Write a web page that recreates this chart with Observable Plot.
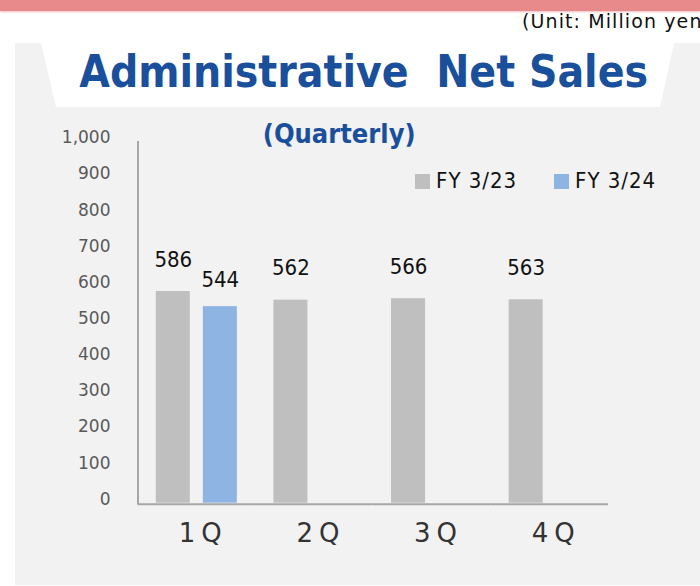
<!DOCTYPE html>
<html>
<head>
<meta charset="utf-8">
<script src="https://cdn.jsdelivr.net/npm/d3@7"></script>
<script src="https://cdn.jsdelivr.net/npm/@observablehq/plot@0.6"></script>
<style>
  html, body { margin: 0; padding: 0; background: #fff; }
  #page { position: relative; width: 700px; height: 586px; overflow: hidden; background: #fff; }
  .abs { position: absolute; white-space: pre; }
  #band { left: 0; top: 0; width: 700px; height: 11px; background: #e88a8c; box-shadow: 0 1px 2px rgba(232,138,140,0.6); }
  #unit { left: 522px; top: 12px; font: 19px/19px "DejaVu Sans", sans-serif; letter-spacing: 1.1px; color: #111; }
  #panel { left: 15px; top: 43px; width: 685px; height: 542px; background: #f2f2f2; }
  #banner { left: 41px; top: 43px; width: 633px; height: 64px; background: #fff;
            clip-path: polygon(0 0, 100% 0, calc(100% - 14px) 100%, 15px 100%); }
  #title { left: 13.7px; top: 50.1px; width: 700px; text-align: center;
           font: bold 44px/44px "DejaVu Sans Condensed", "DejaVu Sans", sans-serif; color: #1a4f9c; }
  #subtitle { left: -10.8px; top: 119.5px; width: 700px; text-align: center;
           font: bold 27px/27px "DejaVu Sans Condensed", "DejaVu Sans", sans-serif; color: #1a4f9c; }
  #chart { left: 0; top: 0; }
  .swatch { width: 15px; height: 15px; top: 174px; }
  .legtext { top: 170.4px; font: 22px/22px "DejaVu Sans Condensed", "DejaVu Sans", sans-serif; letter-spacing: 1px; color: #111; }
  svg [aria-label="fx-axis tick label"] text { letter-spacing: 6px; }
</style>
</head>
<body>
<div id="page">
  <div id="band" class="abs"></div>
  <div id="unit" class="abs">(Unit: Million yen)</div>
  <div id="panel" class="abs"></div>
  <div id="banner" class="abs"></div>
  <div id="title" class="abs">Administrative  Net Sales</div>
  <div id="subtitle" class="abs">(Quarterly)</div>
  <div id="chart" class="abs"></div>
</div>
<script>
const quarters = ["1Q", "2Q", "3Q", "4Q"];
const series = ["FY 3/23", "FY 3/24"];
const fy23 = [586, 562, 566, 563];
const fy24 = [544];
const yTicks = [0, 100, 200, 300, 400, 500, 600, 700, 800, 900, 1000];
const colors = ["#bfbfbf", "#8eb4e3"];

const rows = [];
quarters.forEach((q, i) => {
  if (fy23[i] != null) rows.push({q, s: series[0], v: fy23[i]});
  if (fy24[i] != null) rows.push({q, s: series[1], v: fy24[i]});
});

const font = "'DejaVu Sans Condensed', 'DejaVu Sans', sans-serif";
const fmt = d3.format(",");

const chart = Plot.plot({
  width: 700,
  height: 586,
  marginTop: 141.4,
  marginBottom: 83.3,
  marginLeft: 137.5,
  marginRight: 92,
  style: {background: "transparent", fontFamily: font, overflow: "visible"},
  fx: {domain: quarters, padding: 0, round: false},
  x: {domain: series, paddingInner: 0.2766, paddingOuter: 0.389, round: false, axis: null},
  y: {domain: [0, 1000]},
  color: {domain: series, range: colors},
  marks: [
    Plot.barY(rows, {fx: "q", x: "s", y: "v", fill: "s"}),
    Plot.text(rows.filter(d => d.s === series[0]), {fx: "q", x: "s", y: "v", text: d => String(d.v), dy: -32, fontSize: 22, fill: "#111"}),
    Plot.text(rows.filter(d => d.s === series[1]), {fx: "q", x: "s", y: "v", text: d => String(d.v), dy: -26.3, fontSize: 22, fill: "#111"}),
    Plot.ruleY([0], {stroke: "#a6a6a6", strokeWidth: 2, dy: 1}),
    Plot.frame({anchor: "left", stroke: "#a6a6a6", strokeWidth: 2, facetAnchor: "left"}),
    Plot.axisY({ticks: yTicks, tickSize: 0, tickPadding: 27.5, tickFormat: fmt, fontSize: 17, fill: "#595959", label: null, dy: -4, fontFamily: "'DejaVu Sans', sans-serif"}),
    Plot.axisFx({anchor: "bottom", tickSize: 0, tickPadding: 20.6, fontSize: 26, fill: "#333", label: null, dx: 6.5, fontFamily: "'DejaVu Sans', sans-serif"})
  ]
});
document.getElementById("chart").appendChild(chart);

const page = document.getElementById("page");
const legendLeft = [415, 554];
series.forEach((s, i) => {
  const sw = document.createElement("div");
  sw.className = "abs swatch";
  sw.style.left = legendLeft[i] + "px";
  sw.style.background = colors[i];
  page.appendChild(sw);
  const t = document.createElement("div");
  t.className = "abs legtext";
  t.style.left = (legendLeft[i] + 21) + "px";
  t.textContent = s;
  page.appendChild(t);
});
</script>
</body>
</html>
